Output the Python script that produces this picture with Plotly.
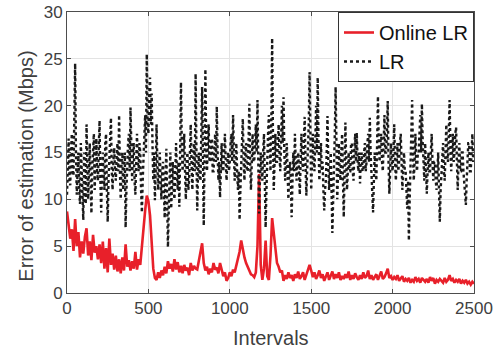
import plotly.graph_objects as go

lr_intervals = list(range(0, 2501, 5))
online_intervals = list(range(0, 2501, 10))

lr_error = [
    10.5, 14, 16.5, 12, 11.5, 15.5, 17, 13, 12.5, 19, 24.5, 15, 10.5, 13, 15, 11, 9.5, 16, 13.5, 10.5,
    7.8, 15, 12.5, 9.5, 18, 14, 10, 13, 16, 12, 8.5, 13, 14.5, 17, 11, 14, 16.5, 13, 12, 15.5,
    18.4, 12, 8.6, 13, 15, 12.5, 11, 16, 17, 11, 7.6, 12, 14, 16, 18.7, 13, 11, 14, 15.5, 13,
    12, 14.5, 16, 13, 19, 13, 10, 14, 15, 11, 12, 15, 7, 11, 14, 16, 17, 13, 19.8, 14,
    12, 15, 16, 12, 10.5, 14, 17, 14, 13, 16, 15, 11, 8.6, 12, 14, 17, 19, 15, 25.5, 18,
    17, 21, 23, 18, 21.3, 16, 12, 15, 9.9, 13, 18, 14, 11, 13, 15, 12, 10, 13, 14, 11,
    8, 12, 15.4, 10, 4.9, 9, 12, 15, 9, 12, 14, 11, 10, 13, 16, 13, 11, 14, 9.2, 15,
    22.5, 16, 13, 15, 17, 13, 10, 14, 15, 11, 12, 15, 18, 14, 11, 14, 16, 13, 23.4, 15,
    8.8, 13, 15, 12, 12, 17, 22, 14, 7.2, 15, 23.9, 16, 13, 16, 18, 14, 14, 16, 16.5, 13,
    13, 15, 17, 14, 19.9, 15, 12, 14, 10.2, 13, 16, 13, 13, 15, 17, 14, 12, 14, 15, 13,
    14, 16, 17, 14, 19, 15, 12, 14, 16, 13, 11, 13, 7.8, 11, 14, 16, 18.6, 14, 12, 15,
    16, 13, 13, 16, 20.2, 14, 11, 14, 17, 14, 14, 16, 18, 15, 20.6, 14, 8.5, 12, 15, 13,
    12, 15, 17, 12, 7, 11, 15, 17, 19, 15, 13, 18, 27.2, 17, 11, 14, 17, 14, 14, 16,
    18, 15, 13, 16, 20, 16, 20.9, 15, 12, 14, 16, 13, 10, 13, 14, 12, 8.1, 12, 15, 13,
    17, 14, 12, 14, 15, 13, 10.5, 14, 17, 14, 13, 16, 18.8, 14, 10.4, 13, 15, 18, 23.6, 16,
    11, 14, 17, 14, 13, 16, 20, 15, 23, 16, 12, 14, 16, 13, 14, 11, 8.8, 11, 12, 15,
    18.9, 14, 11, 13, 15, 11, 6.4, 10, 13, 17, 22, 15, 10, 13, 16, 13, 12, 15, 17, 12,
    8.1, 13, 18.2, 14, 11, 13, 15, 13, 13, 16, 16, 13, 12, 15, 17, 14, 17.1, 14, 13, 15,
    11.7, 14, 15, 13, 13, 15, 16, 13, 14, 16, 17, 14, 18.7, 15, 13, 11, 8.6, 12, 15, 13,
    12, 16, 21, 16, 14, 16, 17, 14, 13, 16, 19, 15, 15, 17, 20.5, 14, 10.6, 13, 16, 14,
    13, 15, 18, 14, 12, 14, 16, 13, 14, 16, 17, 14, 11, 13, 15, 13, 13, 11, 9, 12,
    5.6, 10, 14, 17, 20.6, 15, 12, 14, 17, 14, 13, 15, 15, 17, 19, 15, 20.2, 16, 14, 12,
    16, 13, 10.6, 13, 15, 13, 13, 15, 17, 14, 12, 14, 14, 12, 11, 13, 15, 11, 7.6, 11,
    13, 15, 16, 13, 12, 15, 18, 15, 14, 17, 20.6, 16, 13, 15, 17, 14, 15, 17, 17.7, 14,
    11, 14, 16, 13, 13, 15, 15, 13, 12, 11, 9.4, 12, 14, 16, 16, 13, 13, 15, 17, 14,
    14.5,
]

online_lr_error = [
    8.7, 7.5, 5.8, 6.8, 4.5, 7.9, 5, 6.5, 3.8, 5.5,
    4.2, 6, 6.9, 4, 5.5, 3.5, 6.2, 4.3, 5, 3.6,
    5.2, 3.2, 5.5, 2.6, 4.8, 2.2, 5.8, 3, 4.2, 2.5,
    4, 2.3, 3.6, 2.1, 3.8, 2.4, 5.2, 2.8, 3.5, 2.4,
    3.4, 2.6, 4.4, 2.5, 3.6, 3, 5.2, 6.6, 8.8, 10.4,
    9.8, 8.3, 5, 2.6, 1.6, 1.4, 2.2, 1.6, 2.4, 1.9,
    2.8, 2.1, 3.4, 2.6, 3.1, 2.3, 3.6, 2.5, 3.3, 2.2,
    2.9, 2.1, 3, 2.4, 2.7, 1.9, 3.2, 2.4, 2.9, 2.6,
    2.5, 3.6, 4.4, 5.3, 3.2, 2.4, 2.8, 2, 2.6, 2.2,
    3.2, 2.5, 2.7, 2.1, 3.2, 2.3, 1.8, 2.2, 1.3, 1.6,
    2.2, 1.8, 2.5, 2.2, 3, 3.6, 4.4, 5.6, 4.5, 3.8,
    3.2, 2.8, 2.4, 2, 1.9, 1.7, 2.2, 5, 12.7, 3,
    1.4, 2.6, 5.6, 1.8, 1.4, 4, 8, 6.4, 4.5, 3.2,
    2.8, 2.2, 2.4, 1.3, 1.9, 1.5, 2.2, 1.6, 1.9, 1.3,
    2, 1.6, 2.3, 1.5, 1.8, 2.2, 1.4, 1.9, 2.5, 3,
    2.4, 1.7, 2.2, 1.5, 1.9, 2.4, 1.6, 2, 1.3, 1.8,
    2.2, 1.4, 1.9, 2.3, 1.5, 2, 1.6, 2.2, 1.4, 1.8,
    1.5, 2, 1.6, 2.3, 1.4, 1.9, 1.5, 2.1, 1.7, 1.4,
    1.9, 1.5, 2.2, 1.6, 1.8, 2.4, 1.5, 1.9, 1.4, 1.7,
    2, 1.4, 1.8, 2.3, 1.5, 1.7, 2.1, 2.6, 1.6, 1.8,
    1.4, 1.7, 1.5, 1.9, 1.3, 1.6, 1.8, 1.2, 1.5, 1.3,
    1.6, 1.1, 1.4, 1.2, 1.7, 1.3, 1.5, 1.1, 1.6, 1.4,
    1.2, 1.5, 1.1, 1.7, 1.3, 1.6, 1.0, 1.4, 1.2, 1.5,
    1.3, 1.1, 1.6, 1.2, 1.4, 1.9, 1.3, 1.5, 1.1, 1.4,
    1.2, 1.5, 1.0, 1.3, 1.1, 1.4, 1.0, 1.2, 0.9, 1.2,
    1.0,
]

x_ticks = [0, 500, 1000, 1500, 2000, 2500]
y_ticks = [0, 5, 10, 15, 20, 25, 30]

FONT = "Liberation Sans, Arial, Helvetica, sans-serif"
AX = "#4d4d4d"

fig = go.Figure()
fig.add_trace(go.Scatter(
    x=online_intervals, y=online_lr_error, mode="lines", name="Online LR",
    line=dict(color="#e8202a", width=2.6),
))
fig.add_trace(go.Scatter(
    x=lr_intervals, y=lr_error, mode="lines", name="LR",
    line=dict(color="#1a1a1a", width=2.4, dash="dot"),
))

axis_common = dict(
    showline=True, linecolor=AX, linewidth=1, mirror="ticks",
    ticks="inside", ticklen=4, tickcolor=AX,
    showgrid=True, gridcolor="#e3e3e3", gridwidth=1,
    zeroline=False, automargin=False,
    tickfont=dict(family=FONT, size=17, color="#404040"),
)

fig.update_xaxes(range=[0, 2500], tickvals=x_ticks, **axis_common)
fig.update_yaxes(range=[0, 30], tickvals=y_ticks, **axis_common)

fig.add_annotation(
    text="Intervals", xref="paper", yref="paper", x=0.5, y=-0.16,
    xanchor="center", yanchor="middle", showarrow=False,
    font=dict(family=FONT, size=20, color="#404040"),
)
fig.add_annotation(
    text="Error of estimation (Mbps)", xref="paper", yref="paper",
    x=-0.103, y=0.45, xanchor="center", yanchor="middle", textangle=-90,
    showarrow=False, font=dict(family=FONT, size=20, color="#404040"),
)

fig.update_layout(
    width=498, height=352,
    margin=dict(l=67, r=24, t=12, b=59, autoexpand=False),
    plot_bgcolor="white", paper_bgcolor="white",
    showlegend=True,
    legend=dict(
        x=1, y=1, xanchor="right", yanchor="top",
        bgcolor="white", bordercolor="#333333", borderwidth=1,
        font=dict(family=FONT, size=20, color="#111111"),
        tracegroupgap=0, itemwidth=30,
    ),
)

fig.write_html(
    "out.html",
    config={"displayModeBar": False},
    post_script="document.body.style.margin='0';document.body.style.padding='0';",
)
